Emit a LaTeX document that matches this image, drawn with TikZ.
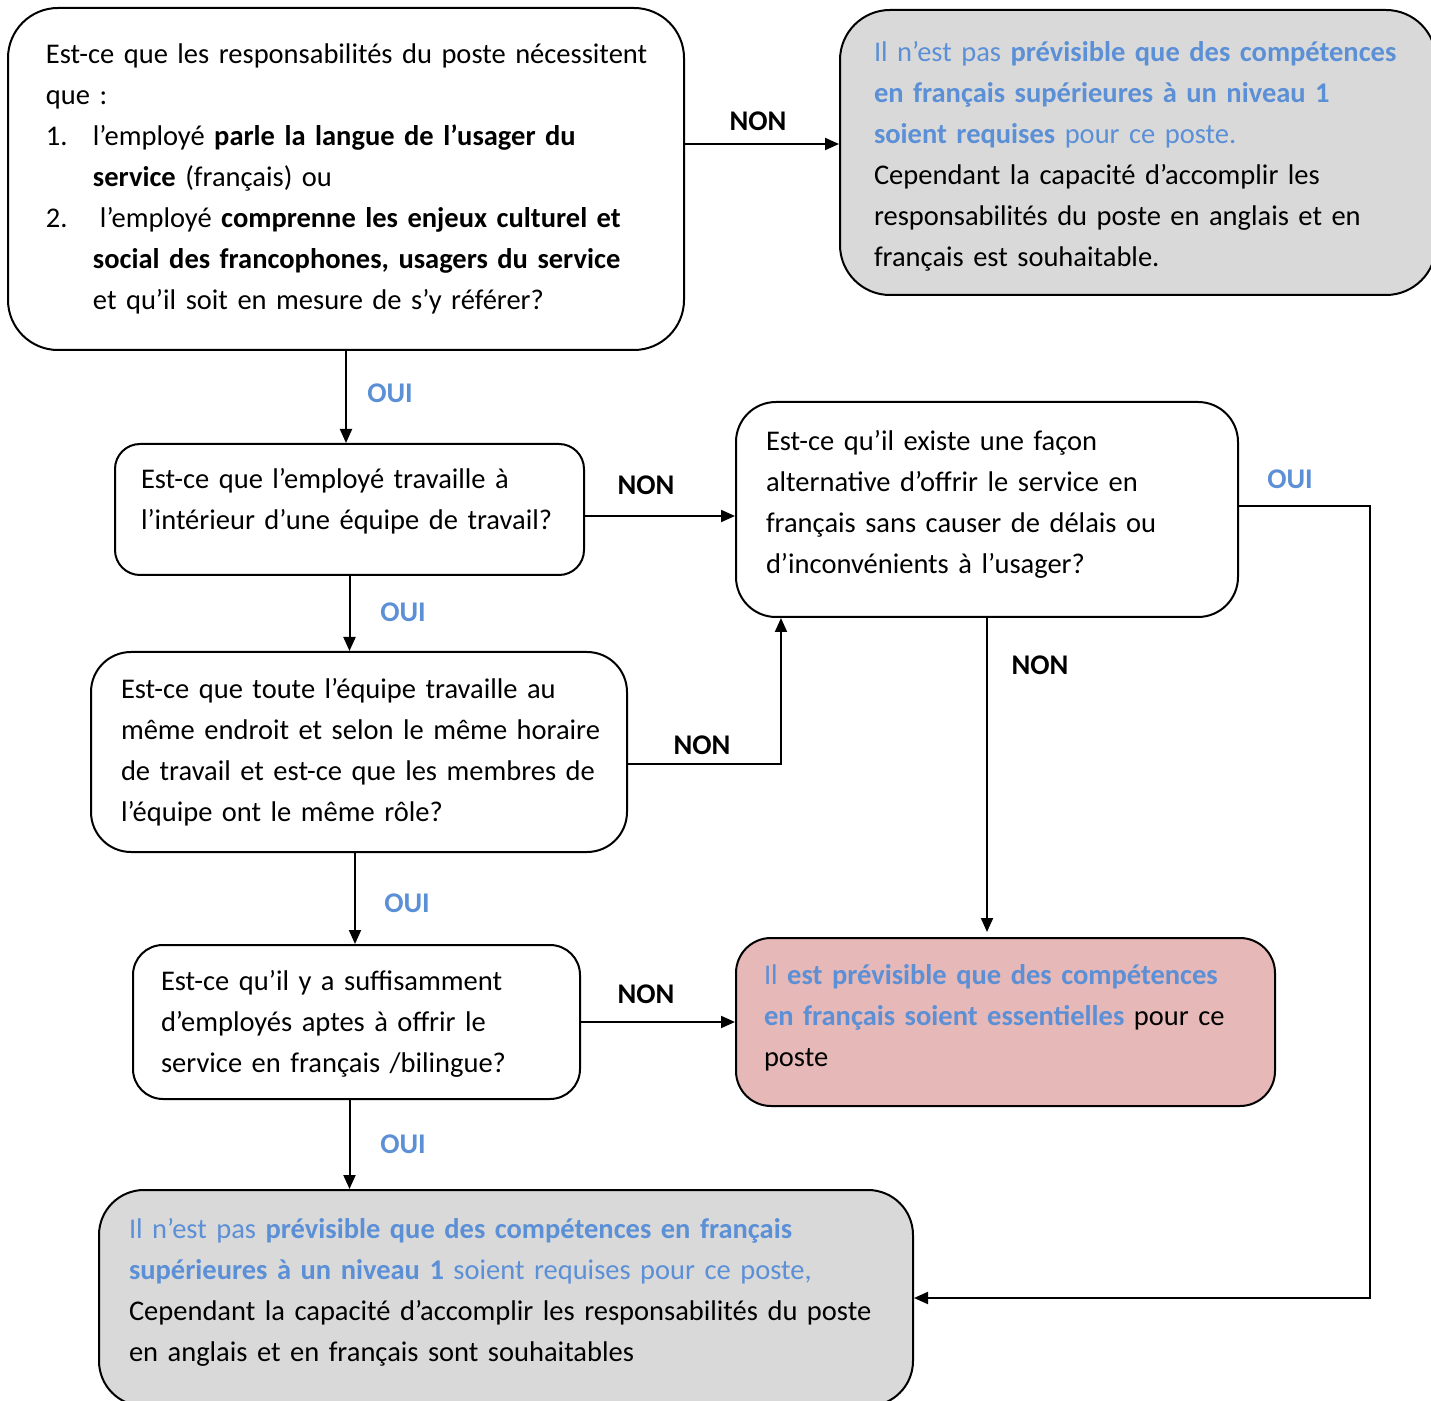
\documentclass[tikz,border=0pt]{standalone}
\usepackage{fontspec}
\setmainfont{Carlito}
\usetikzlibrary{arrows.meta,positioning}
\definecolor{flowBlue}{HTML}{5B8FD6}
\definecolor{flowGray}{HTML}{D9D9D9}
\definecolor{flowPink}{HTML}{E6B8B7}

\begin{document}
\begin{tikzpicture}[x=0.5pt, y=-0.5pt,
  font=\fontsize{14.25}{20.5}\selectfont,
  box/.style={draw=black, line width=1pt, inner sep=0pt,
    execute at begin node={\parindent=0pt\hyphenpenalty=10000\rightskip=0pt plus 1fil minus 30pt\relax}},
  lift/.style={execute at end node={\endgraf\vspace{#1}}},
  arr/.style={line width=1pt, -{Triangle[length=7pt,width=6pt]}},
  nonlbl/.style={font=\fontsize{14.25}{17}\selectfont\bfseries},
  ouilbl/.style={font=\fontsize{14.25}{17}\selectfont\bfseries, text=flowBlue}]
  \useasboundingbox (0,0) rectangle (1431,1401);

  % ---- Questions ----
  \node[box, rounded corners=25pt, minimum width=338pt, minimum height=171pt, text width=300pt]
    (q1) at (346,179)
    {Est-ce que les responsabilités du poste nécessitent\\
     que :\\
     \makebox[23.5pt][l]{1.}l’employé \textbf{parle la langue de l’usager du}\\
     \hspace*{23.5pt}\textbf{service} (français) ou\\
     \makebox[23.5pt][l]{2.}\hspace*{3.5pt}l’employé \textbf{comprenne les enjeux culturel et}\\
     \hspace*{23.5pt}\textbf{social des francophones, usagers du service}\\
     \hspace*{23.5pt}et qu’il soit en mesure de s’y référer?};

  \node[box, lift=8pt, rounded corners=12.5pt, minimum width=234.5pt, minimum height=65.5pt, text width=208.5pt]
    (q2) at (349.5,509.5)
    {Est-ce que l’employé travaille à\\
     l’intérieur d’une équipe de travail?};

  \node[box, lift=5pt, rounded corners=20pt, minimum width=251pt, minimum height=107.5pt, text width=221pt]
    (q3) at (987,509.5)
    {Est-ce qu’il existe une façon\\
     alternative d’offrir le service en\\
     français sans causer de délais ou\\
     d’inconvénients à l’usager?};

  \node[box, rounded corners=20pt, minimum width=268pt, minimum height=100pt, text width=238pt]
    (q4) at (359,752)
    {Est-ce que toute l’équipe travaille au\\
     même endroit et selon le même horaire\\
     de travail et est-ce que les membres de\\
     l’équipe ont le même rôle?};

  \node[box, lift=-2pt, rounded corners=15pt, minimum width=223.5pt, minimum height=77pt, text width=195.5pt]
    (q5) at (356.5,1022)
    {Est-ce qu’il y a suffisamment\\
     d’employés aptes à offrir le\\
     service en français /bilingue?};

  % ---- Results ----
  \node[box, lift=-4pt, fill=flowGray, rounded corners=25pt, minimum width=298pt, minimum height=142.5pt, text width=264pt]
    (r1) at (1138,152.5)
    {\textcolor{flowBlue}{Il n’est pas \textbf{prévisible que des compétences}}\\
     \textcolor{flowBlue}{\textbf{en français supérieures à un niveau 1}}\\
     \textcolor{flowBlue}{\textbf{soient requises} pour ce poste.}\\
     Cependant la capacité d’accomplir les\\
     responsabilités du poste en anglais et en\\
     français est souhaitable.};

  \node[box, lift=4pt, fill=flowPink, rounded corners=17.5pt, minimum width=269.5pt, minimum height=84pt, text width=241.5pt]
    (r2) at (1005.5,1022)
    {\textcolor{flowBlue}{Il \textbf{est prévisible que des compétences}}\\
     \textcolor{flowBlue}{\textbf{en français soient essentielles}} pour ce\\
     poste};

  \node[box, lift=6pt, fill=flowGray, rounded corners=22.5pt, minimum width=407pt, minimum height=108pt, text width=377pt]
    (r3) at (506,1298)
    {\textcolor{flowBlue}{Il n’est pas \textbf{prévisible que des compétences en français}}\\
     \textcolor{flowBlue}{\textbf{supérieures à un niveau 1} soient requises pour ce poste,}\\
     Cependant la capacité d’accomplir les responsabilités du poste\\
     en anglais et en français sont souhaitables};

  % ---- Labels ----
  \node[nonlbl] (nonA) at (758,121) {NON};
  \node[ouilbl] (ouiA) at (390,393) {OUI};
  \node[nonlbl] (nonB) at (646,485) {NON};
  \node[ouilbl] (ouiB) at (1290,479) {OUI};
  \node[ouilbl] (ouiC) at (403,612) {OUI};
  \node[nonlbl] (nonC) at (1040,665) {NON};
  \node[nonlbl] (nonD) at (702,745) {NON};
  \node[ouilbl] (ouiD) at (407,903) {OUI};
  \node[nonlbl] (nonE) at (646,994) {NON};
  \node[ouilbl] (ouiE) at (403,1144) {OUI};

  % ---- Connectors ----
  \coordinate (kneeA) at (781,764);
  \coordinate (kneeB) at (1370,506);
  \draw[arr] (q1.east |- 0,144) -- (r1.west |- 0,144);
  \draw[arr] (q1.south) -- (q1.south |- q2.north);
  \draw[arr] (q2.east |- 0,516) -- (q3.west |- 0,516);
  \draw[arr] (q2.south) -- (q2.south |- q4.north);
  \draw[arr] (q4.east |- kneeA) -| (q3.south -| kneeA);
  \draw[arr, shorten >=2.5pt] (q3.south) -- (q3.south |- r2.north);
  \draw[arr] (q3.east |- kneeB) -| (kneeB |- r3.east) -- (r3.east);
  \draw[arr] ([xshift=-2pt]q4.south) -- ([xshift=-2pt]q4.south |- q5.north);
  \draw[arr] (q5.east) -- (r2.west);
  \draw[arr] ([xshift=-3.5pt]q5.south) -- ([xshift=-3.5pt]q5.south |- r3.north);
\end{tikzpicture}
\end{document}
